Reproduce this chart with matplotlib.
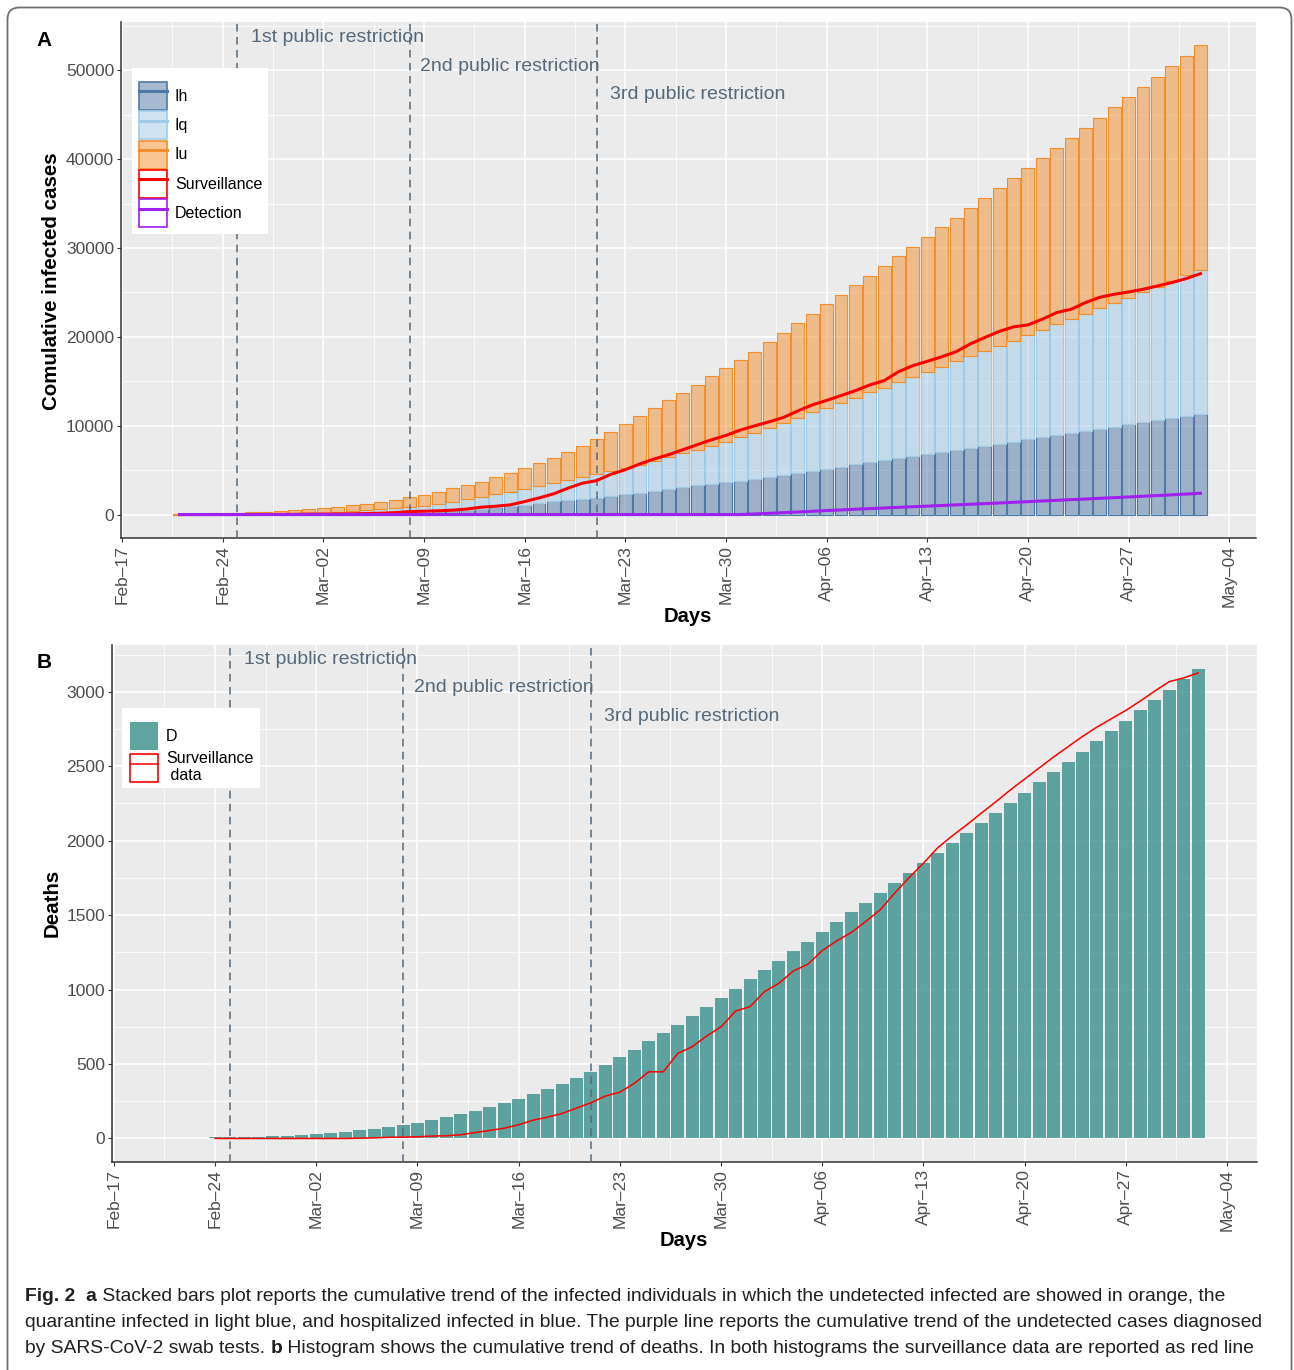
import numpy as np
import pandas as pd
import matplotlib
matplotlib.use('Agg')
import matplotlib.pyplot as plt
import matplotlib.dates as mdates
from matplotlib.patches import Rectangle, FancyBboxPatch, Patch
from matplotlib.lines import Line2D
from matplotlib.colors import to_rgba
from matplotlib.transforms import IdentityTransform

plt.rcParams['font.family'] = ['Liberation Sans', 'DejaVu Sans']

W, H = 1294, 1370

# ---------------- data ----------------
days = pd.date_range('2020-02-21', '2020-05-02', freq='D')

# panel A: tops of the stacked bars (Ih, Ih+Iq, Ih+Iq+Iu)
ih = [2, 4, 7, 10, 14, 18, 23, 29, 35, 42,
      55, 75, 100, 130, 165, 210, 260, 320, 400, 470,
      550, 640, 830, 980, 1120, 1310, 1500, 1650, 1760, 1910,
      2060, 2290, 2470, 2690, 2920, 3110, 3300, 3480, 3670, 3820,
      4040, 4230, 4420, 4650, 4900, 5140, 5400, 5660, 5880, 6110,
      6330, 6560, 6780, 7000, 7230, 7490, 7750, 7970, 8200, 8460,
      8720, 8910, 9130, 9360, 9620, 9880, 10140, 10370, 10590, 10820,
      11040, 11300]
ih_iq = [5, 10, 20, 30, 45, 60, 80, 100, 130, 170,
         220, 290, 370, 460, 570, 700, 850, 1000, 1180, 1450,
         1750, 2020, 2290, 2580, 2880, 3190, 3520, 3890, 4260, 4600,
         4940, 5270, 5610, 5990, 6440, 6890, 7300, 7740, 8190, 8690,
         9170, 9700, 10260, 10850, 11490, 12010, 12570, 13170, 13770, 14290,
         14890, 15490, 16080, 16640, 17240, 17840, 18430, 19030, 19590, 20220,
         20820, 21420, 22010, 22610, 23240, 23840, 24400, 25080, 25670, 26310,
         26940, 27550]
total = [15, 40, 80, 130, 190, 270, 340, 415, 490, 600,
         720, 860, 1050, 1230, 1420, 1680, 1950, 2210, 2510, 2960,
         3330, 3700, 4190, 4640, 5200, 5770, 6360, 7000, 7710, 8500,
         9280, 10140, 11080, 11940, 12840, 13730, 14630, 15560, 16460, 17440,
         18340, 19420, 20470, 21520, 22600, 23700, 24750, 25840, 26890, 28010,
         29060, 30150, 31270, 32320, 33440, 34560, 35650, 36780, 37900, 39020,
         40150, 41310, 42430, 43520, 44680, 45840, 47000, 48160, 49290, 50490,
         51650, 52810]
surv_cases = [0, 2, 4, 5, 6, 8, 10, 15, 20, 50,
              55, 60, 85, 110, 150, 220, 330, 380, 420, 500,
              620, 830, 940, 1090, 1460, 1870, 2320, 2960, 3520, 3820,
              4530, 5050, 5690, 6250, 6730, 7300, 7860, 8420, 8910, 9510,
              9990, 10440, 10930, 11670, 12340, 12850, 13390, 13950, 14590, 15080,
              16080, 16760, 17250, 17760, 18330, 19220, 19930, 20610, 21130, 21350,
              21990, 22740, 23110, 23860, 24460, 24800, 25060, 25360, 25730, 26110,
              26560, 27120]
detection = [0, 0, 0, 0, 0, 0, 0, 0, 0, 0,
             0, 0, 0, 0, 0, 0, 0, 0, 0, 0,
             0, 0, 0, 0, 0, 0, 0, 0, 0, 0,
             0, 0, 0, 0, 0, 0, 0, 0, 0, 0,
             70, 140, 210, 290, 370, 450, 520, 600, 670, 740,
             810, 880, 950, 1020, 1090, 1160, 1230, 1300, 1380, 1450,
             1530, 1600, 1680, 1750, 1830, 1900, 1980, 2060, 2140, 2220,
             2310, 2400]

# panel B: cumulative deaths
deaths = [2, 4, 6, 7, 9, 11, 12, 18, 19, 22,
          31, 38, 45, 56, 65, 76, 89, 103, 125, 143,
          163, 186, 212, 240, 266, 298, 331, 367, 405, 448,
          493, 544, 596, 652, 708, 764, 825, 885, 943, 1006,
          1069, 1132, 1194, 1257, 1322, 1387, 1454, 1519, 1584, 1651,
          1717, 1784, 1851, 1918, 1985, 2053, 2120, 2187, 2254, 2322,
          2391, 2458, 2528, 2597, 2667, 2736, 2806, 2875, 2945, 3014,
          3084, 3156]
surv_days = pd.date_range('2020-02-24', '2020-05-02', freq='D')
surv_deaths = [0, 0, 0, 0, 0, 0, 0, 0, 0, 0,
               2, 4, 8, 9, 11, 16, 18, 25, 40, 54,
               69, 92, 123, 143, 168, 204, 240, 285, 311, 370,
               448, 448, 571, 616, 688, 750, 856, 885, 986, 1042,
               1125, 1170, 1262, 1327, 1383, 1457, 1535, 1647, 1752, 1849,
               1954, 2033, 2107, 2185, 2261, 2340, 2414, 2488, 2562, 2631,
               2700, 2763, 2819, 2875, 2938, 3005, 3068, 3093, 3127]

restrictions = pd.to_datetime(['2020-02-25', '2020-03-08', '2020-03-21'])
restriction_labels = ['1st public restriction', '2nd public restriction',
                      '3rd public restriction']

# ---------------- style ----------------
c_ih, c_iq, c_iu = '#4e79a7', '#a0cbe8', '#f28e2b'
c_red, c_purple, c_teal = '#ff0000', '#a020f0', '#499894'
c_dash = '#55697a'
tick_col = '#4d4d4d'


def fig_box(x0, y0, x1, y1):
    # pixel box (top-left origin) -> figure fraction rect
    return [x0 / W, 1 - y1 / H, (x1 - x0) / W, (y1 - y0) / H]


fig = plt.figure(figsize=(W / 100, H / 100), dpi=100)
fig.patch.set_facecolor('white')

# rounded outer frame
fig.add_artist(FancyBboxPatch((7.5, -30), 1284, H - 7.5 + 30,
                              boxstyle='round,pad=0,rounding_size=12',
                              transform=IdentityTransform(), facecolor='none',
                              edgecolor='#707070', lw=1.3))

x = mdates.date2num(days)
feb17 = mdates.date2num(pd.Timestamp('2020-02-17'))
week_ticks = mdates.date2num(pd.date_range('2020-02-17', '2020-05-04', freq='7D'))


def style_axes(ax, px_left, px_right, px_feb17, px_per_day, yticks, yminor):
    ax.set_facecolor('#ebebeb')
    ax.set_xlim(feb17 + (px_left - px_feb17) / px_per_day,
                feb17 + (px_right - px_feb17) / px_per_day)
    ax.set_xticks(week_ticks)
    ax.set_xticks(week_ticks[:-1] + 3.5, minor=True)
    ax.xaxis.set_major_formatter(mdates.DateFormatter('%b\u2013%d'))
    ax.set_yticks(yticks)
    ax.set_yticklabels([str(v) for v in yticks])
    ax.set_yticks(yminor, minor=True)
    ax.grid(which='major', color='white', lw=1.1)
    ax.grid(which='minor', color='white', lw=0.55)
    ax.set_axisbelow(True)
    for s in ['top', 'right']:
        ax.spines[s].set_visible(False)
    for s in ['left', 'bottom']:
        ax.spines[s].set_color('#333333')
        ax.spines[s].set_linewidth(1.1)
    ax.tick_params(which='major', length=3, width=0.8, color='#333333',
                   labelsize=12.5, labelcolor=tick_col, pad=2)
    ax.tick_params(which='minor', length=0)
    plt.setp(ax.get_xticklabels(), rotation=90)


# legend keys are 28 px boxes; matplotlib trims 0.35*fontsize*(h-0.7) off the box
LEG_FS = 11.5
LEG_HH = 2.32

# ---------------- panel A ----------------
axA = fig.add_axes(fig_box(121, 22, 1256, 538))
ih_a = np.array(ih)
iq_a = np.array(ih_iq) - ih_a
iu_a = np.array(total) - np.array(ih_iq)

axA.bar(x, ih_a, width=0.9, facecolor=to_rgba(c_ih, 0.5), edgecolor=c_ih, lw=0.8, zorder=2)
axA.bar(x, iq_a, bottom=ih_a, width=0.9, facecolor=to_rgba(c_iq, 0.5),
        edgecolor=c_iq, lw=0.8, zorder=2)
axA.bar(x, iu_a, bottom=ih_a + iq_a, width=0.9, facecolor=to_rgba(c_iu, 0.5),
        edgecolor=c_iu, lw=0.8, zorder=2)
axA.plot(x, surv_cases, color=c_red, lw=2.2, zorder=4)
axA.plot(x, detection, color=c_purple, lw=2.2, zorder=4)

style_axes(axA, 121, 1256, 122, 14.38, list(range(0, 50001, 10000)),
           list(range(5000, 55001, 10000)))
axA.set_ylim(-2640, 55450)

for d, lab, yv in zip(restrictions, restriction_labels, [53730, 50470, 47320]):
    dn = mdates.date2num(d)
    axA.axvline(dn, color=c_dash, lw=1.1, ls=(0, (5, 3.5)), zorder=3)
    axA.text(dn + 7, yv, lab, ha='center', va='center', fontsize=14, color=c_dash, zorder=5)

# legend A
axA.add_patch(Rectangle((132 / W, 1 - 234 / H), 136 / W, 166 / H,
                        transform=fig.transFigure, facecolor='white',
                        edgecolor='none', zorder=6, clip_on=False))
handles_a = [
    (Patch(facecolor=to_rgba(c_ih, 0.5), edgecolor=c_ih, lw=1.2), Line2D([], [], color=c_ih, lw=2.2)),
    (Patch(facecolor=to_rgba(c_iq, 0.5), edgecolor=c_iq, lw=1.2), Line2D([], [], color=c_iq, lw=2.2)),
    (Patch(facecolor=to_rgba(c_iu, 0.5), edgecolor=c_iu, lw=1.2), Line2D([], [], color=c_iu, lw=2.2)),
    (Patch(facecolor='white', edgecolor=c_red, lw=1.2), Line2D([], [], color=c_red, lw=2.2)),
    (Patch(facecolor='white', edgecolor=c_purple, lw=1.2), Line2D([], [], color=c_purple, lw=2.2)),
]
legA = axA.legend(handles_a, ['Ih', 'Iq', 'Iu', 'Surveillance', 'Detection'],
                  loc='upper left', bbox_to_anchor=(139 / W, 1 - 82 / H),
                  bbox_transform=fig.transFigure, frameon=False, borderpad=0,
                  borderaxespad=0, handlelength=1.75, handleheight=LEG_HH,
                  handletextpad=0.5, labelspacing=0.08, fontsize=LEG_FS)
legA.set_zorder(7)

# ---------------- panel B ----------------
axB = fig.add_axes(fig_box(112, 645, 1257, 1162))
axB.bar(x, deaths, width=0.9, facecolor=to_rgba(c_teal, 0.88), edgecolor='none', zorder=2)
axB.plot(mdates.date2num(surv_days), surv_deaths, color=c_red, lw=1.1, zorder=4)

style_axes(axB, 112, 1257, 113.9, 14.457, list(range(0, 3001, 500)),
           list(range(250, 3251, 500)))
axB.set_ylim(-158, 3314)

for d, lab, yv in zip(restrictions, restriction_labels, [3216, 3028, 2833]):
    dn = mdates.date2num(d)
    axB.axvline(dn, color=c_dash, lw=1.1, ls=(0, (5, 3.5)), zorder=3)
    axB.text(dn + 7, yv, lab, ha='center', va='center', fontsize=14, color=c_dash, zorder=5)

axB.add_patch(Rectangle((122 / W, 1 - 788 / H), 138 / W, 80 / H,
                        transform=fig.transFigure, facecolor='white',
                        edgecolor='none', zorder=6, clip_on=False))
handles_b = [
    Patch(facecolor=to_rgba(c_teal, 0.88), edgecolor='none'),
    (Patch(facecolor='white', edgecolor=c_red, lw=1.2), Line2D([], [], color=c_red, lw=1.1)),
]
legB = axB.legend(handles_b, ['D', 'Surveillance\n data'],
                  loc='upper left', bbox_to_anchor=(130 / W, 1 - 722 / H),
                  bbox_transform=fig.transFigure, frameon=False, borderpad=0,
                  borderaxespad=0, handlelength=1.75, handleheight=LEG_HH,
                  handletextpad=0.5, labelspacing=0.05, fontsize=LEG_FS)
legB.set_zorder(7)

# ---------------- titles ----------------
def ftext(px, py, s, **kw):
    return fig.text(px / W, 1 - py / H, s, **kw)


ftext(44, 40, 'A', fontsize=15, fontweight='bold', ha='center', va='center')
ftext(44, 662, 'B', fontsize=15, fontweight='bold', ha='center', va='center')
ftext(52, 281, 'Comulative infected cases', fontsize=14.8, fontweight='bold',
      rotation=90, ha='center', va='center')
ftext(52, 903, 'Deaths', fontsize=14.8, fontweight='bold', rotation=90,
      ha='center', va='center')
ftext(688, 617, 'Days', fontsize=14.5, fontweight='bold', ha='center', va='center')
ftext(684, 1240, 'Days', fontsize=14.5, fontweight='bold', ha='center', va='center')

# ---------------- caption ----------------
cap_col = '#231f20'
caption = [
    [('Fig. 2  a', 'bold'),
     (' Stacked bars plot reports the cumulative trend of the infected individuals in which '
      'the undetected infected are showed in orange, the', 'normal')],
    [('quarantine infected in light blue, and hospitalized infected in blue. The purple line '
      'reports the cumulative trend of the undetected cases diagnosed', 'normal')],
    [('by SARS-CoV-2 swab tests. ', 'normal'), ('b', 'bold'),
     (' Histogram shows the cumulative trend of deaths. In both histograms the surveillance '
      'data are reported as red line', 'normal')],
]
renderer = fig.canvas.get_renderer()

# size the caption so the full middle line runs from x=25 to x=1272
probe = ftext(25, 1327, caption[1][0][0], fontsize=14)
cap_size = 14 * 1247 / probe.get_window_extent(renderer=renderer).width
probe.remove()

for row, base in zip(caption, [1301, 1327, 1353]):
    px = 25
    for s, w in row:
        t = ftext(px, base, s, fontsize=cap_size, fontweight=w,
                  color=cap_col, ha='left', va='baseline')
        px += t.get_window_extent(renderer=renderer).width

fig.savefig('out.png', dpi=100)
